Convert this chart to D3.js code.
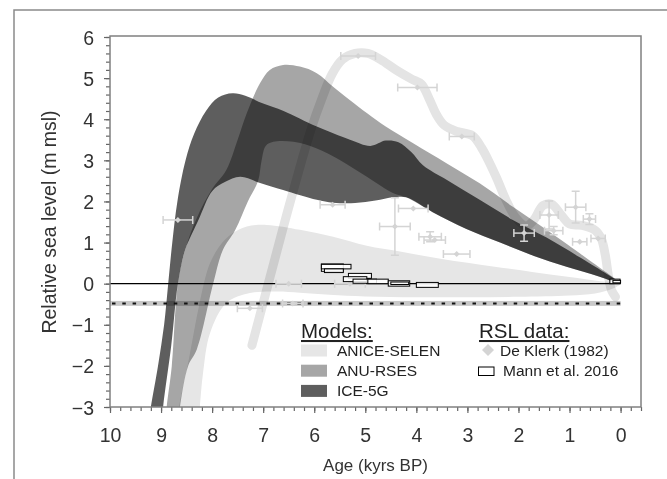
<!DOCTYPE html>
<html>
<head>
<meta charset="utf-8">
<script src="https://cdn.jsdelivr.net/npm/d3@7"></script>
<style>
body { margin: 0; background: #fff; }
svg { display: block; font-family: "Liberation Sans", Arial, sans-serif; }
</style>
</head>
<body>
<svg id="chart" width="667" height="479"></svg>
<script>
// ticks
var xTicks = [10, 9, 8, 7, 6, 5, 4, 3, 2, 1, 0];
var yTicks = [-3, -2, -1, 0, 1, 2, 3, 4, 5, 6];

// model envelopes [age kyr BP, RSL m]; upper edge left->right, lower edge right->left
var aniceUpper = [[8.72,-3.6],[8.65,-3],[8.45,-1.8],[8.25,-0.5],[8.04,0.5],[7.8,1.0],[7.59,1.23],[7.32,1.39],[6.93,1.43],[6.28,1.31],[5.63,1.14],[4.97,0.92],[4.32,0.78],[3.5,0.6],[2.5,0.42],[1.7,0.28],[1.0,0.16],[0.4,0.06],[0,0]];
var aniceLower = [[0.15,-0.12],[0.5,-0.24],[1.0,-0.29],[2,-0.32],[3,-0.33],[4,-0.33],[5,-0.31],[5.7,-0.27],[6.28,-0.22],[6.74,-0.19],[7.26,-0.23],[7.72,-0.47],[8.04,-1.2],[8.18,-2.2],[8.24,-3],[8.27,-3.6]];

var anuUpper = [[8.93,-3.6],[8.89,-3],[8.79,-2],[8.67,0],[8.53,0.82],[8.3,1.6],[8.0,2.3],[7.72,2.77],[7.5,3.5],[7.32,4.15],[7.06,4.88],[6.87,5.2],[6.61,5.32],[6.28,5.28],[5.95,5.12],[5.63,4.79],[4.97,4.15],[4.6,3.82],[4.07,3.42],[3.41,2.93],[2.76,2.44],[2.11,1.87],[1.45,1.31],[0.8,0.74],[0.4,0.38],[0,0]];
var anuLower = [[0.41,0.17],[1.06,0.41],[1.71,0.68],[2.36,1.0],[3.02,1.33],[3.68,1.74],[4.2,2.1],[4.45,2.2],[4.97,2.6],[5.5,3.01],[5.95,3.29],[6.41,3.45],[6.8,3.45],[6.95,3.35],[7.03,3.0],[7.1,2.5],[7.3,2.0],[7.55,1.3],[7.79,0.82],[7.98,0],[8.3,-1.6],[8.47,-2],[8.63,-3],[8.68,-3.6]];

var iceUpper = [[9.27,-3.6],[9.2,-3],[9.06,-2],[8.94,-1],[8.86,0],[8.78,1],[8.68,2],[8.52,3],[8.35,3.65],[8.12,4.2],[7.88,4.53],[7.6,4.63],[7.35,4.57],[7.0,4.38],[6.6,4.2],[5.95,3.82],[5.3,3.5],[4.9,3.35],[4.6,3.48],[4.35,3.44],[4.1,3.2],[3.87,2.88],[3.4,2.52],[2.76,2.04],[2.11,1.55],[1.45,1.12],[0.8,0.64],[0,0]];
var iceLower = [[0.41,0.17],[1.06,0.41],[1.71,0.68],[2.36,1.0],[3.02,1.33],[3.68,1.74],[4.2,2.1],[4.45,2.1],[4.8,2.02],[5.2,1.96],[5.63,1.97],[5.95,2.04],[6.61,2.28],[7.06,2.45],[7.45,2.6],[7.75,2.47],[8.0,2.25],[8.25,1.6],[8.4,1.2],[8.53,0.82],[8.67,0],[8.8,-1.5],[8.96,-3],[9.0,-3.6]];

// De Klerk (1982) sea-level curve
var deKlerkCurve = [[7.22,-1.5],[6.9,0.0],[6.6,1.4],[6.3,2.75],[6.05,3.8],[5.85,4.5],[5.65,5.1],[5.45,5.45],[5.2,5.6],[4.95,5.6],[4.7,5.45],[4.4,5.2],[4.1,4.98],[3.9,4.85],[3.75,4.5],[3.6,4.1],[3.45,3.85],[3.2,3.7],[2.9,3.6],[2.72,3.3],[2.57,2.95],[2.42,2.55],[2.25,2.05],[2.05,1.6],[1.85,1.4],[1.7,1.55],[1.52,1.9],[1.35,1.93],[1.15,1.65],[1.0,1.45],[0.75,1.42],[0.5,1.3],[0.38,1.1],[0.3,0.7],[0.24,0.2],[0.18,-0.15],[0.1,-0.32]];

// De Klerk (1982) points: age, rsl, age error, rsl error
var dkAge = [8.67, 7.26, 6.5, 6.42, 5.64, 5.3, 5.14, 4.42, 4.06, 3.98, 3.73, 3.64, 3.21, 3.11, 1.89, 1.4, 1.31, 0.88, 0.8, 0.61, 0.44];
var dkRsl = [1.55, -0.6, 0.0, -0.48, 1.92, 0.0, 5.54, 1.39, 1.83, 4.77, 1.14, 1.06, 0.72, 3.58, 1.23, 1.67, 1.29, 1.86, 1.02, 1.57, 1.10];
var dkAgeErr = [0.29, 0.245, 0.25, 0.2, 0.245, 0.3, 0.34, 0.3, 0.29, 0.385, 0.22, 0.21, 0.26, 0.245, 0.2, 0.18, 0.18, 0.2, 0.14, 0.12, 0.14];
var dkRslErr = [0, 0, 0, 0, 0, 0, 0, 0.7, 0, 0, 0.12, 0, 0, 0, 0.2, 0.34, 0.1, 0.385, 0, 0.13, 0];

// Mann et al. 2016 boxes: oldest age, youngest age, lowest rsl, highest rsl
var mannBoxes = [[5.86,5.43,0.30,0.48],[5.86,5.28,0.36,0.47],[5.8,5.43,0.27,0.36],[5.33,4.88,0.13,0.25],[5.43,4.97,0.05,0.17],[5.24,4.78,0.01,0.11],[4.95,4.55,0.0,0.11],[4.55,4.13,-0.06,0.07],[4.5,4.15,-0.02,0.04],[4.0,3.57,-0.09,0.03],[0.21,0.01,0.0,0.11],[0.15,0.0,0.02,0.08]];

// offset band (dashed)
var offsetBand = [-0.54, -0.48, -0.42];

var models = ["ANICE-SELEN", "ANU-RSES", "ICE-5G"];
var modelColors = ["#e6e6e6", "#a6a6a6", "#5e5e5e"];

var svg = d3.select("#chart");

var x = d3.scaleLinear().domain([10, -0.4]).range([110, 641]);
var y = d3.scaleLinear().domain([-3, 6]).range([407, 37]);

function diamond(r) {
	return "M0," + (-r) + "L" + r + ",0L0," + r + "L" + (-r) + ",0Z";
}

// outer figure frame
svg.append("path").attr("d", "M14,479V10H667")
	.attr("fill", "none").attr("stroke", "#8a8a8a").attr("stroke-width", 1.5);

svg.append("clipPath").attr("id", "clip").append("rect")
	.attr("x", x(10)).attr("y", y(6))
	.attr("width", x(-0.4) - x(10)).attr("height", y(-3) - y(6));

var g = svg.append("g").attr("clip-path", "url(#clip)");

var line = d3.line()
	.x(function(d) { return x(d[0]); })
	.y(function(d) { return y(d[1]); })
	.curve(d3.curveCatmullRom.alpha(0.5));

var bands = [aniceUpper.concat(aniceLower), anuUpper.concat(anuLower), iceUpper.concat(iceLower)];

g.selectAll("path.band")
	.data(bands)
	.enter().append("path")
	.attr("class", "band")
	.attr("d", function(d) { return line(d) + "Z"; })
	.style("fill", function(d, i) { return modelColors[i]; })
	.style("mix-blend-mode", "multiply");

g.append("path")
	.attr("d", line(deKlerkCurve))
	.style("fill", "none")
	.style("stroke", "#e4e4e4")
	.style("stroke-width", 9)
	.style("stroke-linecap", "round")
	.style("stroke-linejoin", "round")
	.style("mix-blend-mode", "multiply");

// offset band with dashed line
g.append("rect")
	.attr("x", x(10)).attr("width", x(0) - x(10))
	.attr("y", y(offsetBand[2])).attr("height", y(offsetBand[0]) - y(offsetBand[2]))
	.style("fill", "#c8c8c8")
	.style("mix-blend-mode", "multiply");
g.append("line")
	.attr("x1", x(10) + 2).attr("x2", x(0))
	.attr("y1", y(offsetBand[1])).attr("y2", y(offsetBand[1]))
	.style("stroke", "#111").style("stroke-width", 2)
	.style("stroke-dasharray", "3.5,6.8");

// zero line
g.append("line")
	.attr("x1", x(10)).attr("x2", x(0))
	.attr("y1", y(0)).attr("y2", y(0))
	.style("stroke", "#000").style("stroke-width", 1.2);

// De Klerk points
var dk = d3.range(dkAge.length);
var pts = g.selectAll("g.dk").data(dk).enter().append("g").attr("class", "dk")
	.style("stroke", "#d4d4d4").style("stroke-width", 1.5).style("fill", "none");
pts.append("line")
	.attr("x1", function(i) { return x(dkAge[i] + dkAgeErr[i]); })
	.attr("x2", function(i) { return x(dkAge[i] - dkAgeErr[i]); })
	.attr("y1", function(i) { return y(dkRsl[i]); })
	.attr("y2", function(i) { return y(dkRsl[i]); });
pts.append("path")
	.attr("d", function(i) {
		var cy = y(dkRsl[i]);
		return "M" + x(dkAge[i] + dkAgeErr[i]) + "," + (cy - 4) + "v8" +
			"M" + x(dkAge[i] - dkAgeErr[i]) + "," + (cy - 4) + "v8";
	});
pts.filter(function(i) { return dkRslErr[i] > 0; }).append("path")
	.attr("d", function(i) {
		var cx = x(dkAge[i]);
		var y1 = y(dkRsl[i] + dkRslErr[i]), y2 = y(dkRsl[i] - dkRslErr[i]);
		return "M" + cx + "," + y1 + "V" + y2 +
			"M" + (cx - 4) + "," + y1 + "h8M" + (cx - 4) + "," + y2 + "h8";
	});
pts.append("path")
	.attr("d", diamond(3))
	.attr("transform", function(i) { return "translate(" + x(dkAge[i]) + "," + y(dkRsl[i]) + ")"; })
	.style("fill", "#d4d4d4").style("stroke", "none");

// Mann et al. 2016 boxes
g.selectAll("rect.mann")
	.data(mannBoxes)
	.enter().append("rect")
	.attr("class", "mann")
	.attr("x", function(d) { return x(d[0]); })
	.attr("width", function(d) { return x(d[1]) - x(d[0]); })
	.attr("y", function(d) { return y(d[3]); })
	.attr("height", function(d) { return y(d[2]) - y(d[3]); })
	.style("fill", "#fff").style("fill-opacity", 0.85)
	.style("stroke", "#000").style("stroke-width", 1);

// axes
var minorX = d3.range(-2, 51).map(function(v) { return v / 5; });
var minorY = d3.range(-15, 31).map(function(v) { return v / 5; });

var xAxis = svg.append("g").attr("transform", "translate(0," + y(-3) + ")")
	.call(d3.axisBottom(x).tickValues(xTicks).tickSize(6).tickPadding(15).tickSizeOuter(0).tickFormat(d3.format("d")));
var xMinor = svg.append("g").attr("transform", "translate(0," + y(-3) + ")")
	.call(d3.axisBottom(x).tickValues(minorX).tickSize(4).tickFormat("").tickSizeOuter(0));
var yAxis = svg.append("g").attr("transform", "translate(" + x(10) + ",0)")
	.call(d3.axisLeft(y).tickValues(yTicks).tickSize(6).tickPadding(10).tickSizeOuter(0).tickFormat(d3.format("d")));
var yMinor = svg.append("g").attr("transform", "translate(" + x(10) + ",0)")
	.call(d3.axisLeft(y).tickValues(minorY).tickSize(4).tickFormat("").tickSizeOuter(0));

[xAxis, xMinor, yAxis, yMinor].forEach(function(a) {
	a.selectAll(".domain").remove();
	a.selectAll(".tick line").attr("stroke", "#666").attr("stroke-width", 1.2);
	a.selectAll(".tick text").attr("fill", "#333").style("font-size", "19.5px").style("font-family", "'Liberation Sans', Arial, sans-serif");
});
yAxis.selectAll(".tick text").attr("dy", "0.36em");

// plot frame
svg.append("rect")
	.attr("x", x(10)).attr("y", y(6) - 1)
	.attr("width", x(-0.4) - x(10)).attr("height", y(-3) - y(6) + 1)
	.style("fill", "none").style("stroke", "#808080").style("stroke-width", 1.5);

// axis titles
svg.append("text")
	.attr("x", (x(10) + x(-0.4)) / 2).attr("y", 471)
	.attr("text-anchor", "middle")
	.style("font-size", "17px").style("fill", "#333")
	.text("Age (kyrs BP)");
svg.append("text")
	.attr("transform", "translate(56," + ((y(6) + y(-3)) / 2) + ") rotate(-90)")
	.attr("text-anchor", "middle")
	.style("font-size", "19.5px").style("fill", "#333")
	.text("Relative sea level (m msl)");

// legend
var leg = svg.append("g").style("fill", "#222");
leg.append("text").attr("x", 301).attr("y", 338)
	.style("font-size", "20.5px").style("text-decoration", "underline").text("Models:");
leg.append("text").attr("x", 479).attr("y", 338)
	.style("font-size", "20.5px").style("text-decoration", "underline").text("RSL data:");

var rows = leg.selectAll("g.row").data(models).enter().append("g").attr("class", "row")
	.attr("transform", function(d, i) { return "translate(0," + (i * 20.2) + ")"; });
rows.append("rect").attr("x", 301).attr("y", 344.5).attr("width", 26).attr("height", 12)
	.style("fill", function(d, i) { return modelColors[i]; });
rows.append("text").attr("x", 337).attr("y", 355.5)
	.style("font-size", "15.5px").text(function(d) { return d; });

leg.append("path").attr("d", diamond(6))
	.attr("transform", "translate(488,350)").style("fill", "#d4d4d4");
leg.append("text").attr("x", 500).attr("y", 355.5).style("font-size", "15.5px").text("De Klerk (1982)");
leg.append("rect").attr("x", 478.5).attr("y", 367).attr("width", 15.5).attr("height", 8.5)
	.style("fill", "#fff").style("stroke", "#000").style("stroke-width", 1);
leg.append("text").attr("x", 503).attr("y", 375.7).style("font-size", "15.5px").text("Mann et al. 2016");
</script>
</body>
</html>
